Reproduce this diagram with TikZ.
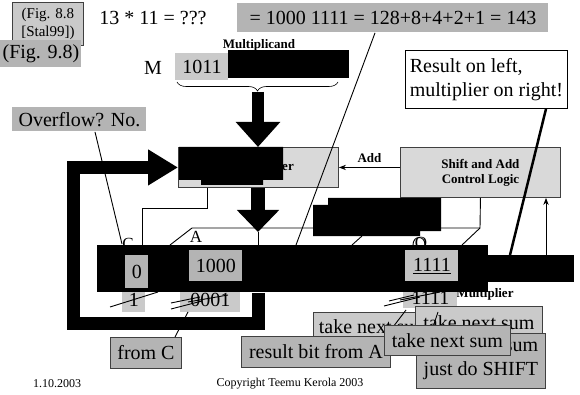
\documentclass[tikz,border=0pt]{standalone}
\usepackage{fontspec}
\setmainfont{Liberation Serif}
\usetikzlibrary{arrows.meta,decorations.pathreplacing}
\definecolor{grayA}{HTML}{B4B4B4}
\definecolor{grayB}{HTML}{CACACA}
\definecolor{grayC}{HTML}{D9D9D9}
\definecolor{edgegray}{HTML}{404040}

\begin{document}
\begin{tikzpicture}[x=1pt, y=-1pt, >=Stealth, line width=0.9pt,
  big/.style={font=\fontsize{20}{24}\selectfont},
  lbl/.style={font=\bfseries\fontsize{13}{15}\selectfont},
  cell/.style={inner sep=0pt, anchor=north west, big},
  darkcell/.style={cell, fill=grayA},
  lightcell/.style={cell, fill=grayB},
  note/.style={darkcell, draw=edgegray},
  panel/.style={inner sep=0pt, anchor=north west, fill=grayC, draw=edgegray, lbl, align=center},
  blk/.style={fill=black, inner sep=0pt, anchor=north west},
  fat/.style={line width=12pt, -{Triangle[length=25pt, width=43pt]}}]
\useasboundingbox (0,0) rectangle (580,395);
\node[lightcell, draw=edgegray, minimum width=71, minimum height=43, align=center, font=\fontsize{15}{18}\selectfont] (stal) at (12,2) {(Fig. 8.8\\{}[Stal99])};
\node[darkcell, minimum width=81, minimum height=27] (fig) at (0,40) {(Fig. 9.8)};
\node[big] (task) at (153,18) {13 * 11 = ???};
\node[darkcell, minimum width=311, minimum height=29] (answer) at (237,3) {= 1000 1111 = 128+8+4+2+1 = 143};
\node[lbl] (mcand) at (259,45) {Multiplicand};
\node[big] (mname) at (153,68) {M};
\node[lightcell, minimum width=53, minimum height=27] (mbits) at (175,53) {1011};
\fill (228,50) rectangle (349,78);
\draw[line width=0.6pt, decorate, decoration={brace, mirror, amplitude=9pt}] (177,82) -- (338,82);
\coordinate (mtip) at (258,92);
\node[darkcell, minimum width=134, minimum height=24] (ovf) at (12,107) {Overflow? No.};
\node[cell, fill=white, draw=black, minimum width=162, minimum height=58, align=left] (hint) at (405,50) {Result on left,\\multiplier on right!};
\node[panel, minimum width=160, minimum height=40] (adder) at (178,147) {};
\node[lbl] (adtxt) at (288,167) {er};
\fill (179,147) -- (283,147) -- (283,180) -- (263,180) -- (263,185) -- (201,185) -- (201,180) -- (179,180) -- cycle;
\node[panel, minimum width=160, minimum height=50] (ctl) at (400,147) {Shift and Add\\Control Logic};
\draw[->] (adder.east -| ctl.west) -- (adder.east) node[lbl, midway, above=1pt] {Add};
\draw[fat] (mtip) -- (mtip |- adder.north);
\draw[fat, line width=14pt, -{Triangle[length=22pt, width=41pt]}] (adder.south -| 258,0) -- (258,232);
\draw (258,232) -- (258,245);
\draw (adder.south -| 207,0) |- (142,208) -- (142,245);
\draw (ctl.south) -- (480,228) -- (192,228) -- (170,245);
\draw (480,228) -- (462,245);
\fill (328,198) -- (441,198) -- (441,231) -- (420,231) -- (420,236) -- (313,236) -- (313,205) -- (328,205) -- cycle;
\draw (352,245) -- (362,236);
\draw (413,245) .. controls (413,235) and (425,235) .. (425,245);
\node[font=\fontsize{17}{17}\selectfont] (clbl) at (128,244) {C};
\node[font=\fontsize{17}{17}\selectfont] (albl) at (196,237) {A};
\node[font=\fontsize{17}{17}\selectfont] (qlbl) at (421,244) {Q};
\node[lbl] (mplier) at (485,294) {Multiplier};
\node[lightcell, minimum width=23, minimum height=26] (cnext) at (122,286) {1};
\node[lightcell, minimum width=60, minimum height=26] (anext) at (180,286) {0001};
\node[lightcell, minimum width=54, minimum height=22] (qnext) at (403,286) {1111};
\node[blk, minimum width=391, minimum height=47] (reg) at (97,245) {};
\node[blk, minimum width=87, minimum height=27] (regx) at (487,255) {};
\node[darkcell, minimum width=23, minimum height=33] (cbit) at (125,255) {0};
\node[darkcell, minimum width=53, minimum height=31] (abits) at (189,250) {1000};
\node[cell, fill=grayA!80!white, minimum width=53, minimum height=31] (qbits) at (405,250) {\underline{1111}};
\draw[->] (regx.north -| 546,0) -- (ctl.south -| 546,0);
\draw (110,307) -- (158,292);
\draw (171,303) -- (200,297);
\draw (171,309) -- (202,301);
\draw (188,302) -- (228,295);
\draw (384,306) -- (420,297);
\draw (389,301) -- (414,295);
\draw (400,300) -- (440,292);
\coordinate (cpt) at (122,244);
\coordinate (rpt) at (296,245);
\draw (ovf.south -| 95,0) -- (cpt);
\draw (answer.south -| 375,0) -- (rpt);
\draw[line width=2.5pt] (hint.south -| 546,0) -- (regx.north -| 510,0);
\node[note, minimum width=71, minimum height=31] (fromc) at (110,337) {from C};
\draw (fromc.north -| 175,0) -- (188,312);
\draw[line width=13pt, line join=miter, -{Triangle[length=30pt, width=34pt]}] (reg.south -| 258,0) -- (258,323.5) -- (73.5,323.5) |- (adder.west);
\node[lightcell, draw=edgegray, minimum width=122, minimum height=29] (sum1) at (313,312) {take next sum};
\draw (393,327) -- (406,310);
\node[lightcell, draw=edgegray, minimum width=127, minimum height=32] (sum2) at (415,306) {take next sum};
\draw (432,330) -- (438,312);
\node[note, minimum width=129, minimum height=55, align=right] (noadd) at (416,333) {no sum\\just do SHIFT};
\node[note, minimum width=149, minimum height=31] (fromA) at (241,336) {result bit from A};
\node[note, minimum width=126, minimum height=30] (sum3) at (384,325) {take next sum};
\node[font=\fontsize{12}{14}\selectfont] (date) at (57,384) {1.10.2003};
\node[font=\fontsize{12}{14}\selectfont] (copy) at (290,384) {Copyright Teemu Kerola 2003};
\end{tikzpicture}
\end{document}
